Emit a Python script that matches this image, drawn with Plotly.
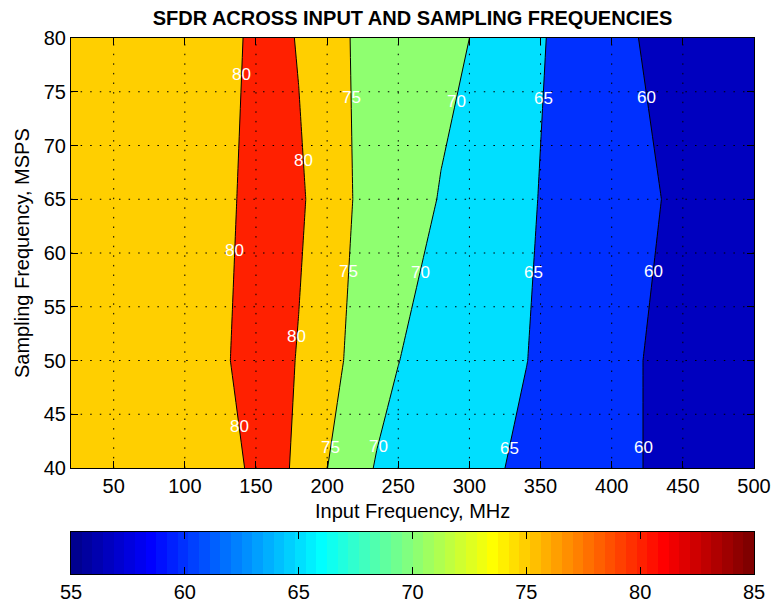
import numpy as np
import plotly.graph_objects as go

# ---------------- data ----------------
input_freq_mhz = [20, 100, 130, 150, 165, 180, 200, 220, 235, 250, 280, 310, 340, 370, 410, 440, 500]
sampling_freq_msps = [40, 50, 65, 80]

sfdr_fs40 = [77.2, 78.6, 79.4, 80.4, 81.0, 79.24, 75.05, 71.93, 69.6, 68.8, 67.43, 65.81, 64.19, 62.68, 60.62, 59.07, 57.0]
sfdr_fs50 = [77.0, 78.8, 79.9, 80.9, 81.2, 79.76, 76.75, 73.73, 71.9, 70.06, 68.39, 66.72, 65.06, 63.2, 60.72, 58.92, 56.8]
sfdr_fs65 = [77.0, 78.6, 79.6, 80.83, 81.4, 80.6, 78.2, 74.65, 73.43, 72.2, 69.76, 67.66, 65.56, 63.46, 61.33, 59.73, 57.5]
sfdr_fs80 = [77.0, 78.5, 79.4, 80.5, 81.0, 79.75, 77.1, 74.5, 73.65, 72.8, 71.1, 69.45, 66.4, 63.4, 60.5, 58.8, 57.0]

contour_levels = [60, 65, 70, 75, 80]
x_ticks = [50, 100, 150, 200, 250, 300, 350, 400, 450, 500]
y_ticks = [40, 45, 50, 55, 60, 65, 70, 75, 80]
cbar_ticks = [55, 60, 65, 70, 75, 80, 85]
cbar_range = [55, 85]

# contour labels: (level, sampling frequency where the label sits, which crossing)
label_specs = [
    (80, 76.6, 0), (75, 74.5, 0), (70, 74.1, 0), (65, 74.4, 0), (60, 74.5, 0),
    (80, 68.6, 1),
    (80, 60.2, 0), (75, 58.3, 0), (70, 58.2, 0), (65, 58.2, 0), (60, 58.3, 0),
    (80, 52.2, 1),
    (80, 43.9, 0), (75, 41.9, 0), (70, 42.0, 0), (65, 41.8, 0), (60, 41.9, 0),
]

# ---------------- helpers ----------------
X = np.array(input_freq_mhz, float)
Y = np.array(sampling_freq_msps, float)
Z = np.array([sfdr_fs40, sfdr_fs50, sfdr_fs65, sfdr_fs80], float)


def jet(n=64):
    m = int(np.ceil(n / 4))
    u = np.concatenate([np.arange(1, m + 1) / m, np.ones(m - 1), np.arange(m, 0, -1) / m])
    g = int(np.ceil(m / 2)) - (1 if n % 4 == 1 else 0) + np.arange(1, len(u) + 1)
    r = g + m
    b = g - m
    cmap = np.zeros((n, 3))
    for arr, col in ((r, 0), (g, 1), (b, 2)):
        mask = (arr >= 1) & (arr <= n)
        cmap[arr[mask] - 1, col] = u[mask]
    return cmap


JET = jet(64)


def rgb(c):
    return "rgb(%d,%d,%d)" % tuple(int(round(v * 255)) for v in c)


def jet_color(v):
    k = int(np.floor((v - cbar_range[0]) / (cbar_range[1] - cbar_range[0]) * 64))
    k = min(max(k, 0), 63)
    return rgb(JET[k])


def crossings(row, level):
    out = []
    for j in range(len(row) - 1):
        a, b = row[j] - level, row[j + 1] - level
        if a * b < 0 or (a == 0):
            out.append(X[j] + a / (a - b) * (X[j + 1] - X[j]) if a != b else X[j])
    return out


def label_x(level, fs, which):
    i = int(np.clip(np.searchsorted(Y, fs) - 1, 0, len(Y) - 2))
    t = (fs - Y[i]) / (Y[i + 1] - Y[i])
    xa = crossings(Z[i], level)[which]
    xb = crossings(Z[i + 1], level)[which]
    return xa + t * (xb - xa)


# fill colours: MATLAB contourf colours each band with the colour of its lower level
band_values = [Z.min()] + contour_levels
n_b = len(band_values)
fill_scale = [[i / (n_b - 1), jet_color(v)] for i, v in enumerate(band_values)]

FONT = "Liberation Sans, Arial, Helvetica, sans-serif"

fig = go.Figure()

fig.add_trace(go.Contour(
    x=input_freq_mhz, y=sampling_freq_msps, z=Z,
    contours=dict(start=contour_levels[0], end=contour_levels[-1],
                  size=contour_levels[1] - contour_levels[0],
                  coloring="fill", showlabels=False),
    colorscale=fill_scale, showscale=False,
    line=dict(color="black", width=1, smoothing=0),
    hoverinfo="skip", xaxis="x", yaxis="y",
))

# colour bar drawn as a 64-step jet strip
edges = np.linspace(cbar_range[0], cbar_range[1], 65)
cb_scale = []
for k in range(64):
    cb_scale.append([k / 64, rgb(JET[k])])
    cb_scale.append([(k + 1) / 64, rgb(JET[k])])
fig.add_trace(go.Heatmap(
    x=edges, y=[0, 1], z=[list(range(64))], zmin=-0.5, zmax=63.5,
    colorscale=cb_scale, showscale=False, hoverinfo="skip",
    xaxis="x2", yaxis="y2",
))

# dotted grid drawn above the filled contours
shapes = []
for xv in x_ticks:
    if xv < 500:
        shapes.append(dict(type="line", xref="x", yref="y", x0=xv, x1=xv, y0=y_ticks[0], y1=y_ticks[-1],
                           line=dict(color="black", width=1, dash="1.5px,8.1px"), layer="above"))
for yv in y_ticks[1:-1]:
    shapes.append(dict(type="line", xref="x", yref="y", x0=20, x1=500, y0=yv, y1=yv,
                       line=dict(color="black", width=1, dash="1.5px,8.1px"), layer="above"))

annotations = []
for level, fs, which in label_specs:
    annotations.append(dict(x=label_x(level, fs, which), y=fs, xref="x", yref="y",
                            text=str(level), showarrow=False, xanchor="center", yanchor="middle",
                            font=dict(family=FONT, size=17, color="white")))

# axis titles
annotations.append(dict(x=0.5, y=(574 - 511) / 536, xref="paper", yref="paper",
                        text="Input Frequency, MHz", showarrow=False, xanchor="center", yanchor="middle",
                        font=dict(family=FONT, size=20, color="black")))
annotations.append(dict(x=(22 - 71) / 683, y=(574 - 253) / 536, xref="paper", yref="paper",
                        text="Sampling Frequency, MSPS", showarrow=False, textangle=-90,
                        xanchor="center", yanchor="middle",
                        font=dict(family=FONT, size=20, color="black")))

axis_common = dict(ticks="inside", ticklen=7, tickcolor="black", tickwidth=1,
                   showline=True, linecolor="black", linewidth=1,
                   showgrid=False, zeroline=False, automargin=False,
                   tickfont=dict(family=FONT, size=20, color="black"))

fig.update_layout(
    template="none",
    width=773, height=607,
    margin=dict(l=71, r=19, t=38, b=33, autoexpand=False),
    paper_bgcolor="white", plot_bgcolor="white",
    font=dict(family=FONT, size=20, color="black"),
    title=dict(text="<b>SFDR ACROSS INPUT AND SAMPLING FREQUENCIES</b>",
               x=0.5, xref="paper", xanchor="center",
               y=1 - 18 / 607, yref="container", yanchor="middle",
               font=dict(family=FONT, size=20, color="black")),
    xaxis=dict(axis_common, domain=[0, 1], anchor="y", range=[20, 500],
               tickvals=x_ticks, mirror="ticks"),
    yaxis=dict(axis_common, domain=[(574 - 468) / 536, 1], anchor="x", range=[40, 80],
               tickvals=y_ticks, mirror="ticks"),
    xaxis2=dict(axis_common, domain=[0, 1], anchor="y2", range=cbar_range,
                tickvals=cbar_ticks, mirror="ticks"),
    yaxis2=dict(domain=[0, (574 - 532) / 536], anchor="x2", range=[0, 1],
                showticklabels=False, ticks="", showline=True, linecolor="black",
                linewidth=1, mirror=True, showgrid=False, zeroline=False, automargin=False),
    shapes=shapes,
    annotations=annotations,
    showlegend=False,
)

fig.write_html("out.html",
               config={"displayModeBar": False, "staticPlot": True},
               post_script="document.body.style.margin='0';document.body.style.overflow='hidden';")
